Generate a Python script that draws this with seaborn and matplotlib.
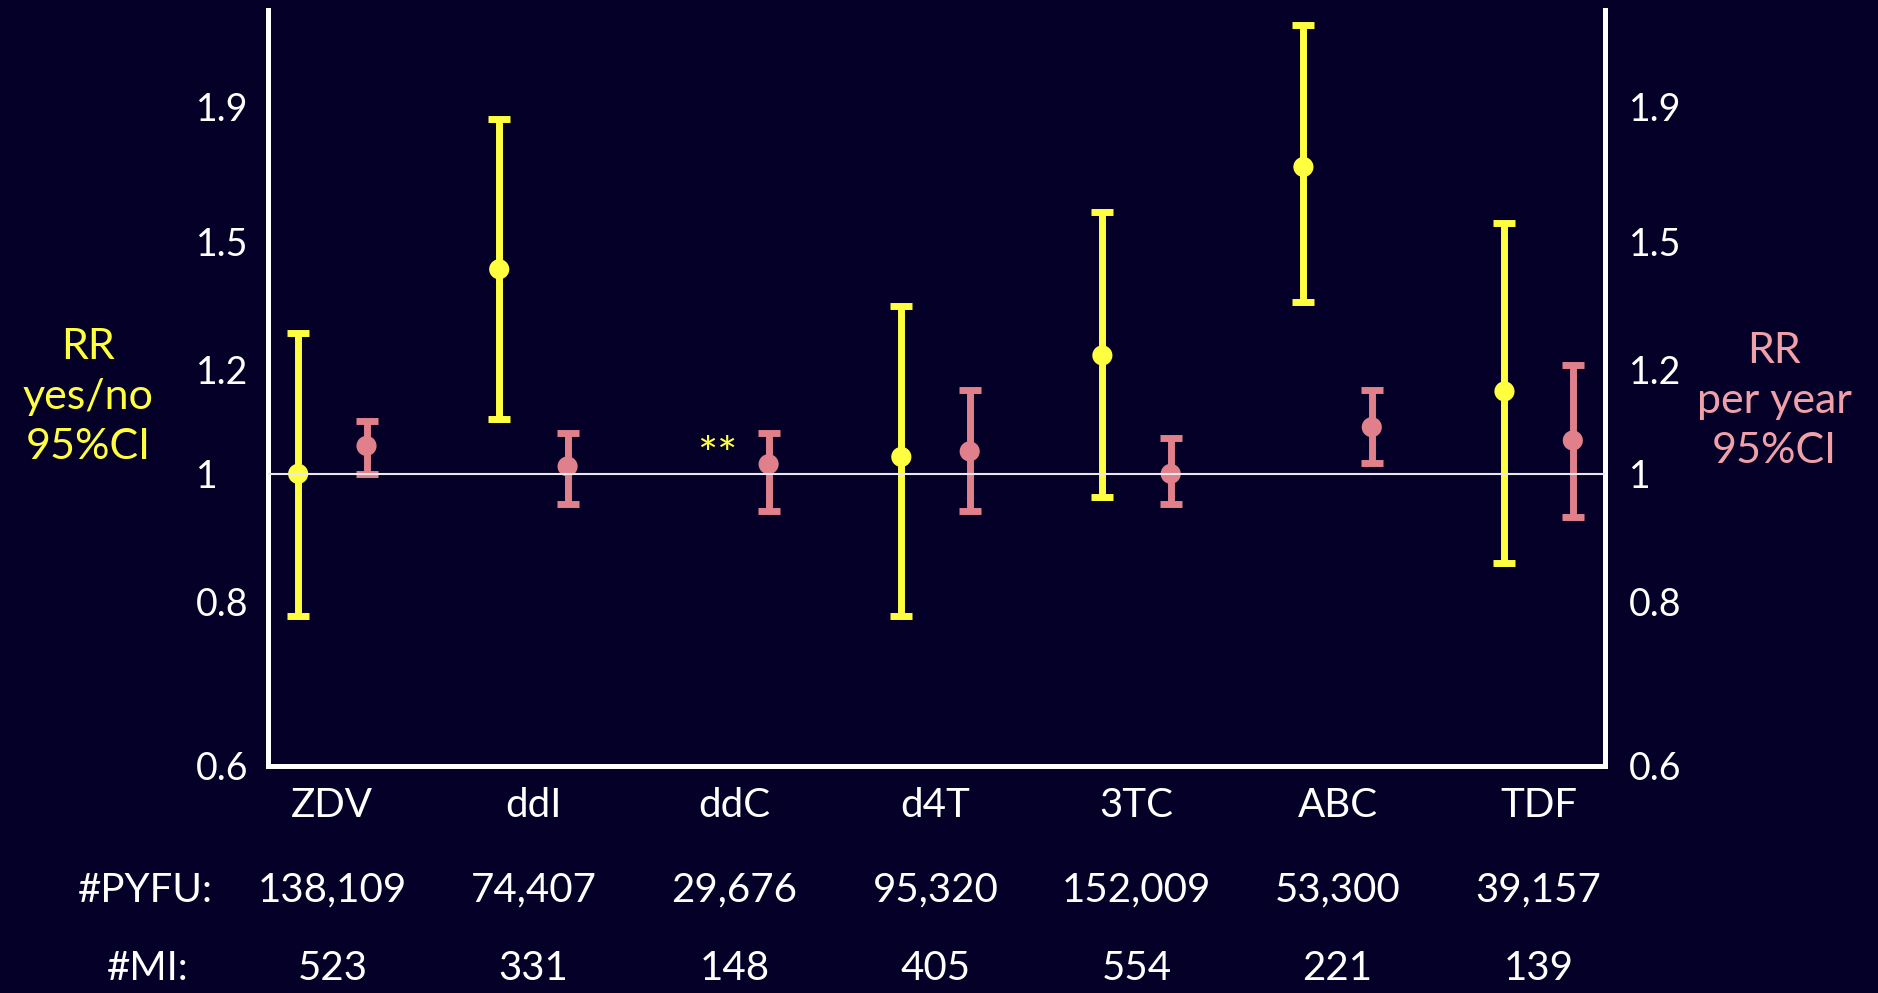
import numpy as np
import pandas as pd
import matplotlib
matplotlib.use("Agg")
import matplotlib.pyplot as plt
import seaborn as sns
from matplotlib.ticker import FixedLocator, FixedFormatter, NullLocator
from matplotlib.transforms import blended_transform_factory

# ---------------- data ----------------
categories = ["ZDV", "ddI", "ddC", "d4T", "3TC", "ABC", "TDF"]
yn_rr = [1.00, 1.43, np.nan, 1.03, 1.23, 1.71, 1.155]
yn_lo = [0.78, 1.10, np.nan, 0.78, 0.96, 1.35, 0.856]
yn_hi = [1.28, 1.86, np.nan, 1.34, 1.58, 2.19, 1.55]
py_rr = [1.05, 1.013, 1.017, 1.04, 1.00, 1.085, 1.06]
py_lo = [1.00, 0.949, 0.937, 0.937, 0.949, 1.019, 0.927]
py_hi = [1.097, 1.074, 1.074, 1.158, 1.065, 1.158, 1.21]
pyfu = ["138,109", "74,407", "29,676", "95,320", "152,009", "53,300", "39,157"]
mi = ["523", "331", "148", "405", "554", "221", "139"]
yticks = [0.6, 0.8, 1.0, 1.2, 1.5, 1.9]
ytick_labels = ["0.6", "0.8", "1", "1.2", "1.5", "1.9"]

BG = "#050028"
YEL = "#FFFF40"
PINK = "#E0808A"
PINK_TXT = "#EFA0A8"
WHITE = "#FFFFFF"

sns.set_style("dark", rc={"axes.facecolor": BG, "figure.facecolor": BG,
                          "axes.grid": False})
plt.rcParams["font.family"] = ["Lato", "DejaVu Sans"]

fig = plt.figure(figsize=(18.78, 9.93), dpi=100, facecolor=BG)
ax = fig.add_axes([268 / 1878, 1 - 766 / 993, (1605 - 268) / 1878, (766 - 10) / 993])
ax.set_facecolor(BG)

off = 0.17
idx = np.arange(len(categories))
df = pd.DataFrame({
    "x": np.concatenate([idx - off, idx + off]),
    "rr": yn_rr + py_rr,
    "lo": yn_lo + py_lo,
    "hi": yn_hi + py_hi,
    "kind": ["yes/no"] * len(categories) + ["per year"] * len(categories),
})
df = df.dropna()

for kind, col in [("yes/no", YEL), ("per year", PINK)]:
    d = df[df["kind"] == kind]
    ax.errorbar(d["x"], d["rr"], yerr=[d["rr"] - d["lo"], d["hi"] - d["rr"]],
                fmt="none", ecolor=col, elinewidth=5, capsize=8, capthick=5,
                zorder=3)

sns.scatterplot(data=df, x="x", y="rr", hue="kind",
                palette={"yes/no": YEL, "per year": PINK},
                s=210, edgecolor="none", legend=False, ax=ax, zorder=4)

ax.set_yscale("log")
ax.set_ylim(0.6, 2.25)
ax.set_xlim(-0.32, 6.33)
ax.axhline(1.0, color="#E8E8F0", lw=1.5, zorder=5)

# ddC yes/no marker
ax.text(2 - 0.085, 1.03, "**", color=YEL, fontsize=34, ha="center", va="center")

# spines
for s in ["left", "right", "bottom"]:
    ax.spines[s].set_color(WHITE)
    ax.spines[s].set_linewidth(3.6)
    ax.spines[s].set_visible(True)
ax.spines["top"].set_visible(False)

TICK_FS = 27
ax.yaxis.set_major_locator(FixedLocator(yticks))
ax.yaxis.set_major_formatter(FixedFormatter(ytick_labels))
ax.yaxis.set_minor_locator(NullLocator())
ax.tick_params(axis="y", length=0, labelsize=TICK_FS, colors=WHITE, pad=52)
for lbl in ax.get_yticklabels():
    lbl.set_horizontalalignment("left")

ax.set_xticks(idx)
ax.set_xticklabels(categories)
ax.tick_params(axis="x", length=0, labelsize=29, colors=WHITE, pad=15)
ax.set_xlabel("")
ax.set_ylabel("")

ax2 = ax.twinx()
ax2.set_yscale("log")
ax2.set_ylim(0.6, 2.25)
ax2.yaxis.set_major_locator(FixedLocator(yticks))
ax2.yaxis.set_major_formatter(FixedFormatter(ytick_labels))
ax2.yaxis.set_minor_locator(NullLocator())
ax2.tick_params(axis="y", length=0, labelsize=TICK_FS, colors=WHITE, pad=17)
for s in ax2.spines.values():
    s.set_visible(False)
ax2.patch.set_visible(False)

# bottom rows
tr = blended_transform_factory(ax.transData, fig.transFigure)
y_pyfu = 1 - 890 / 993
y_mi = 1 - 968 / 993
for i in idx:
    ax.text(i, y_pyfu, pyfu[i], transform=tr, ha="center", va="center",
            color=WHITE, fontsize=29)
    ax.text(i, y_mi, mi[i], transform=tr, ha="center", va="center",
            color=WHITE, fontsize=29)
fig.text(213 / 1878, y_pyfu, "#PYFU:", ha="right", va="center", color=WHITE, fontsize=29)
fig.text(189 / 1878, y_mi, "#MI:", ha="right", va="center", color=WHITE, fontsize=29)

# side labels
fig.text(88 / 1878, 1 - 397 / 993, "RR\nyes/no\n95%CI", ha="center", va="center",
         multialignment="center", color=YEL, fontsize=31, linespacing=1.4)
fig.text(1774 / 1878, 1 - 401 / 993, "RR\nper year\n95%CI", ha="center", va="center",
         multialignment="center", color=PINK_TXT, fontsize=31, linespacing=1.4)

fig.savefig("out.png", dpi=100, facecolor=BG)
